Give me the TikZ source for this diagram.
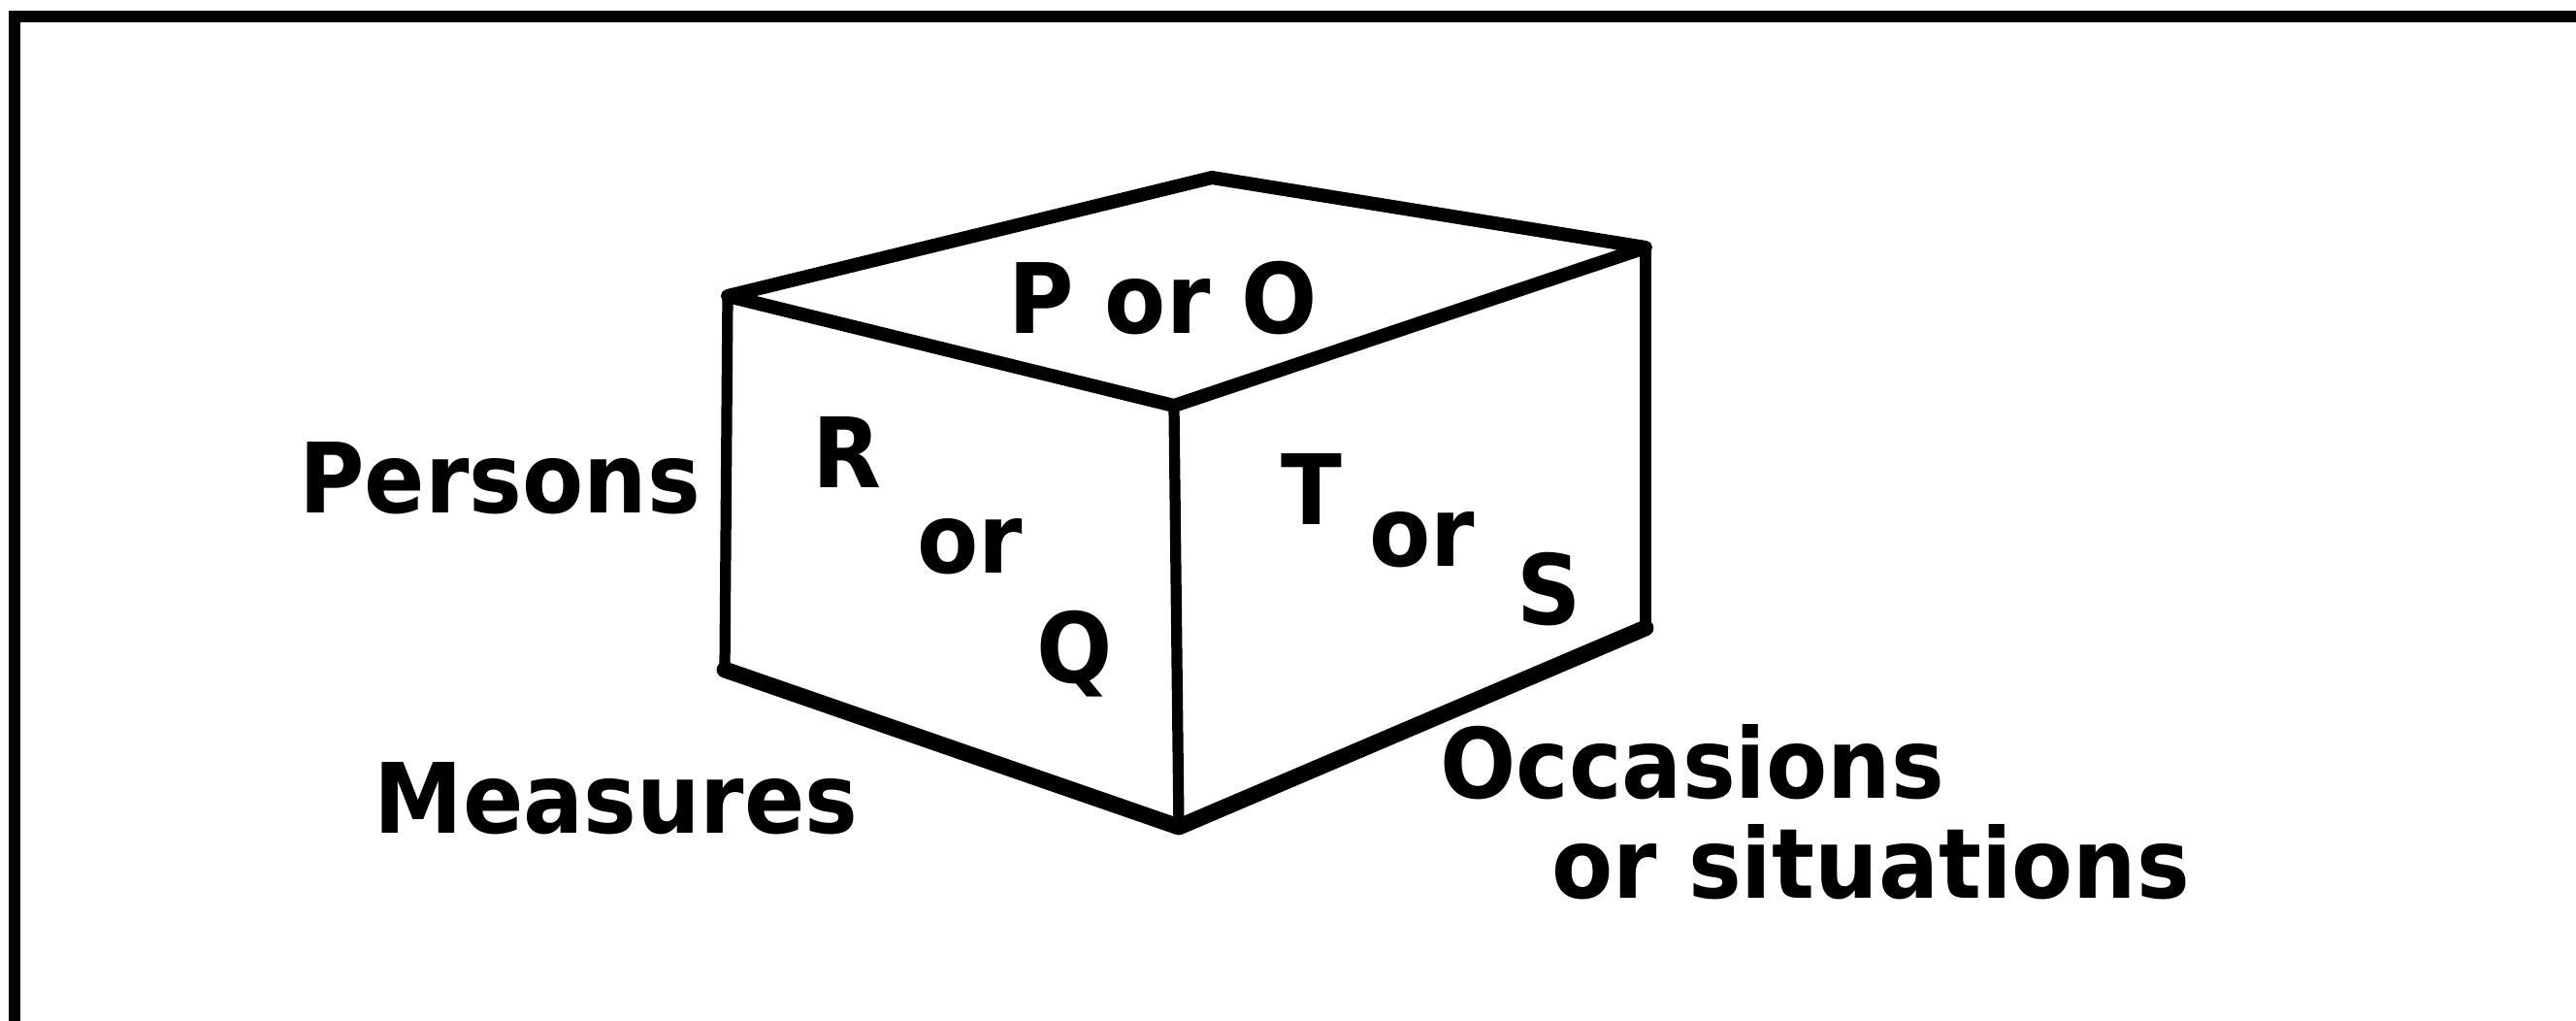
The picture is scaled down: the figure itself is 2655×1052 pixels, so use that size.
\documentclass[tikz,border=0pt]{standalone}
\usepackage{fontspec}
\newfontfamily\cubefont{DejaVu Sans}[FakeStretch=0.92]
\begin{document}
\begin{tikzpicture}[x=0.005cm, y=-0.005cm,
    lbl/.style={font=\cubefont\bfseries\fontsize{14.25}{17}\selectfont, inner sep=0pt, anchor=base west},
    edge/.style={line width=1.6pt, line join=round, line cap=round}]
    \useasboundingbox (0,0) rectangle (2655,1052);
    % Frame
    \draw[line width=1.8pt] (15,1052) -- (15,17) -- (2655,17);

    % Cube corners
    \coordinate (A) at (750,305);
    \coordinate (B) at (1249,183);
    \coordinate (C) at (1696,255);
    \coordinate (D) at (1210,418);
    \coordinate (E) at (747,690);
    \coordinate (F) at (1215,852);
    \coordinate (G) at (1696,647);

    % Cube edges
    \draw[edge, line width=2pt] (A) -- (B) -- (C) -- (D) -- cycle;
    \draw[edge] (A) -- (E);
    \draw[edge] (D) -- (F);
    \draw[edge] (C) -- (G);
    \draw[edge, line width=2.4pt] (E) -- (F) -- (G);

    % Faces
    \node[lbl] (top) at (1038,343) {P or O};
    \node[lbl] (R) at (836,502) {R};
    \node[lbl] (orL) at (944,590) {or};
    \node[lbl] (Q) at (1067,703) {Q};
    \node[lbl] (T) at (1319,540) {T};
    \node[lbl] (orR) at (1410,583) {or};
    \node[lbl] (S) at (1562,643) {S};

    % Axes
    \node[lbl] (persons) at (307,528) {Persons};
    \node[lbl] (measures) at (384,858) {Measures};
    \node[lbl] (occ) at (1483,822) {Occasions};
    \node[lbl] (sit) at (1598,925) {or situations};
\end{tikzpicture}
\end{document}
